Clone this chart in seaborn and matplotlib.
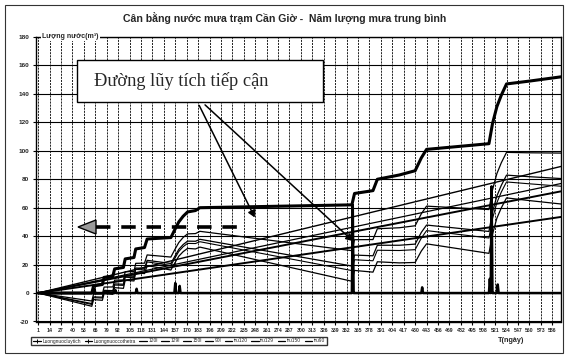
import matplotlib
matplotlib.use("Agg")
import matplotlib.pyplot as plt
import seaborn as sns
from matplotlib.lines import Line2D
from matplotlib.patches import Rectangle, Polygon, FancyArrowPatch

sns.set_theme(style="white")
plt.rcParams["font.family"] = ["Liberation Sans", "DejaVu Sans"]

# ---- data -----------------------------------------------------------------
day_ticks = list(range(1, 587, 13))
y_ticks = [-20, 0, 20, 40, 60, 80, 100, 120, 140, 160, 180]

# cumulative rain water (m3)
cum_days = [1, 62, 64, 74, 76, 86, 88, 98, 100, 110, 112, 122, 125, 152, 156,
            161, 166, 171, 180, 185, 358, 361, 382, 387, 412, 430, 437, 443,
            514, 518, 523, 528, 534, 560, 596]
cum_vals = [0, 0, 5, 6, 11, 12, 17, 18, 24, 25, 31, 32, 38, 39, 44,
            50, 54, 57, 58, 60, 62, 70, 72, 80, 83, 86, 95, 101,
            105, 119, 131, 139, 147, 149, 152]

# water that can be drawn (m3)
draw_days = [1, 64, 65, 66, 88, 89, 90, 112, 113, 114, 156, 157, 158, 161,
             162, 163, 358, 359, 360, 361, 437, 438, 439, 514, 515, 516,
             517, 518, 519, 523, 524, 525, 596]
draw_vals = [0, 0, 3, 0, 0, 2, 0, 0, 3, 0, 0, 7, 0, 0,
             5, 0, 0, 62, 0, 0, 0, 4, 0, 0, 10, 0,
             75, 0, 0, 0, 6, 0, 0]

# straight consumption lines (start, end)
line_days = [1, 596]
use120 = [0, 71.5]
use129 = [0, 77.0]
use150 = [0, 89.0]
use90 = [0, 53.5]

# balance after consumption, read at the same days as cum_days
tru120 = [0, -7.4, -2.7, -2.9, 1.9, 1.7, 6.4, 6.2, 12.0, 11.8, 17.6, 17.4,
          23.0, 20.8, 25.3, 30.7, 34.1, 36.5, 36.4, 37.8, 19.0, 26.7, 26.2,
          33.6, 33.6, 34.4, 42.6, 47.8, 43.3, 56.8, 68.2, 75.6, 82.9, 81.8,
          80.5]
tru129 = [0, -8.0, -3.3, -3.5, 1.2, 0.9, 5.6, 5.4, 11.1, 10.8, 16.6, 16.3,
          21.9, 19.4, 23.9, 29.2, 32.6, 34.9, 34.8, 36.1, 15.8, 23.4, 22.7,
          30.1, 29.9, 30.5, 38.6, 43.9, 38.7, 52.2, 63.5, 70.9, 78.1, 76.8,
          75.1]
tru150 = [0, -9.3, -4.6, -5.1, -0.4, -0.9, 3.8, 3.3, 9.0, 8.5, 14.2, 13.7,
          19.3, 16.2, 20.6, 25.9, 29.1, 31.4, 31.0, 32.3, 8.3, 15.9, 14.7,
          22.0, 21.2, 21.5, 29.5, 34.6, 27.9, 41.3, 52.6, 59.8, 66.9, 65.0,
          62.6]
tru90 = [0, -5.6, -0.8, -0.7, 4.2, 4.3, 9.1, 9.2, 15.0, 15.1, 20.9, 21.0,
         26.8, 25.3, 30.0, 35.5, 39.1, 41.6, 41.8, 43.4, 29.8, 37.5, 37.6,
         45.2, 45.9, 47.3, 55.7, 61.1, 58.7, 72.4, 83.9, 91.5, 98.9, 98.6,
         98.4]

legend_labels = ["Luongnuocluytich", "Luongnuoccothetra", "120l", "129l",
                 "150l", "90l", "tru120", "tru129", "tru150", "tru90"]

title = "Cân bằng nước mưa trạm Cần Giờ -  Năm lượng mưa trung bình"
note = "Đường lũy tích tiếp cận"

# ---- figure ---------------------------------------------------------------
W, H = 567, 358
fig = plt.figure(figsize=(W / 100, H / 100), dpi=100)


def fx(x):
    return x / W


def fy(y):
    return 1 - y / H


ax_l, ax_r, ax_t, ax_b = 36, 561, 37, 321.5
ax = fig.add_axes([fx(ax_l), fy(ax_b), fx(ax_r - ax_l), (ax_b - ax_t) / H])

k = dict(ax=ax, color="black", legend=False, estimator=None)
sns.lineplot(x=line_days, y=use120, lw=1.4, **k)
sns.lineplot(x=line_days, y=use129, lw=0.9, **k)
sns.lineplot(x=line_days, y=use150, lw=1.0, **k)
sns.lineplot(x=line_days, y=use90, lw=1.4, **k)
sns.lineplot(x=cum_days, y=tru120, lw=0.9, **k)
sns.lineplot(x=cum_days, y=tru129, lw=0.8, **k)
sns.lineplot(x=cum_days, y=tru150, lw=0.9, **k)
sns.lineplot(x=cum_days, y=tru90, lw=0.9, **k)
sns.lineplot(x=draw_days, y=draw_vals, lw=1.8, **k)
sns.lineplot(x=cum_days, y=cum_vals, lw=2.2, **k)

ax.set_xlim(-1.5, 596)
ax.set_ylim(-20, 180)
ax.set_xticks(day_ticks)
ax.set_xticklabels([str(d) for d in day_ticks], fontsize=3.7, fontweight="bold")
ax.set_yticks(y_ticks)
ax.set_yticklabels([str(v) for v in y_ticks], fontsize=4.6, fontweight="bold")
ax.tick_params(axis="both", length=2.5, width=0.8, color="black", pad=2.5,
               direction="out", bottom=True, left=True)
ax.set_xlabel("")
ax.set_ylabel("")
for s in ax.spines.values():
    s.set_color("black")
    s.set_linewidth(1.0)
ax.yaxis.grid(True, color="black", lw=0.8)
ax.xaxis.grid(True, color="black", lw=0.6, linestyle=(0, (2.5, 1.2)))
ax.set_axisbelow(True)

ax.text(0.012, 1.0, "Lượng nước(m³)", transform=ax.transAxes, fontsize=5,
        fontweight="bold", va="center", ha="left",
        bbox=dict(facecolor="white", edgecolor="none", pad=0.6))

# title and axis caption
fig.text(fx(285), fy(18), title, ha="center", va="center", fontsize=7.6,
         fontweight="bold")
fig.text(fx(511), fy(341), "T(ngày)", ha="center", va="center", fontsize=5.2,
         fontweight="bold")

# legend
handles = [Line2D([], [], color="black", lw=0.9, marker="+", ms=2.5, mew=0.7),
           Line2D([], [], color="black", lw=0.9, marker="+", ms=2.5, mew=0.7)]
handles += [Line2D([], [], color="black", lw=0.9) for _ in range(8)]
fig.legend(handles, legend_labels, ncol=10, loc="center left",
           bbox_to_anchor=(fx(29), fy(341)), frameon=True,
           fancybox=False, edgecolor="black", handlelength=1.5,
           handletextpad=0.35, columnspacing=0.75, borderpad=0.4,
           prop=dict(size=3.5))

# annotation box with arrows
fig.patches.append(Rectangle((fx(77), fy(102)), fx(323 - 77), (102 - 60) / H,
                             transform=fig.transFigure, facecolor="white",
                             edgecolor="black", lw=1.0, zorder=5))
fig.text(fx(94), fy(81), note, fontsize=13.2, family="Liberation Serif",
         va="center", ha="left", zorder=6)
for (x0, y0), (x1, y1) in [((198, 103), (256, 220)), ((203, 103), (355, 243))]:
    fig.add_artist(FancyArrowPatch(
        (fx(x0), fy(y0)), (fx(x1), fy(y1)), transform=fig.transFigure,
        arrowstyle="-|>,head_length=4,head_width=2.2", color="black",
        lw=1.1, zorder=6))

# dashed arrow pointing left
fig.add_artist(Line2D([fx(96), fx(240)], [fy(227), fy(227)],
                      transform=fig.transFigure, color="black", lw=2.6,
                      linestyle=(0, (4, 3)), zorder=6))
fig.add_artist(Polygon([(fx(78), fy(227)), (fx(96), fy(220)), (fx(96), fy(234))],
                       closed=True, transform=fig.transFigure,
                       facecolor="#9a9a9a", edgecolor="black", lw=1.0,
                       zorder=6))

# outer frame
fig.add_artist(Rectangle((fx(5), fy(353)), fx(563 - 5), (353 - 5) / H,
                         transform=fig.transFigure, fill=False,
                         edgecolor="#333333", lw=0.8))

fig.savefig("out.png", dpi=100)
